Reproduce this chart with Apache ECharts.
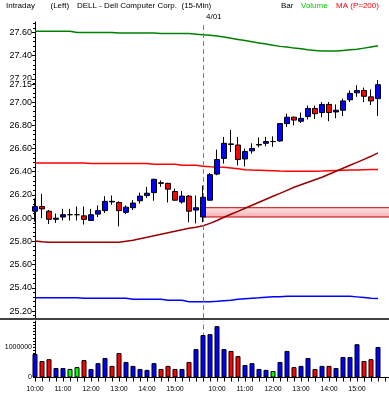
<!DOCTYPE html>
<html><head><meta charset="utf-8">
<script src="https://cdn.jsdelivr.net/npm/echarts@6/dist/echarts.min.js"></script>
<style>html,body{margin:0;padding:0;background:#fff}#c{width:389px;height:398px}</style>
</head><body><div id="c"></div>
<script>
// ---- data ----
const times = ['10:00','10:15','10:30','10:45','11:00','11:15','11:30','11:45','12:00','12:15','12:30','12:45',
  '13:00','13:15','13:30','13:45','14:00','14:15','14:30','14:45','15:00','15:15','15:30','15:45',
  '9:30','9:45','10:00','10:15','10:30','10:45','11:00','11:15','11:30','11:45','12:00','12:15','12:30','12:45',
  '13:00','13:15','13:30','13:45','14:00','14:15','14:30','14:45','15:00','15:15','15:30','15:45'];
const opens = [26.06,26.10,26.06,25.99,26.01,26.03,26.03,26.02,25.98,26.035,
  26.065,26.145,26.135,26.05,26.09,26.15,26.195,26.22,26.305,26.30,
  26.23,26.14,26.19,26.07,26.01,26.155,26.38,26.515,26.64,26.63,
  26.51,26.58,26.63,26.645,26.66,26.665,26.815,26.87,26.835,26.875,
  26.945,26.91,26.98,26.915,26.93,27.02,27.08,27.10,27.045,27.03];
const closes = [26.10,26.08,25.99,26.00,26.03,26.03,26.03,25.99,26.03,26.065,
  26.145,26.14,26.065,26.095,26.13,26.19,26.215,26.335,26.30,26.25,
  26.155,26.19,26.06,26.09,26.18,26.375,26.505,26.645,26.635,26.505,
  26.575,26.60,26.635,26.66,26.66,26.815,26.87,26.845,26.86,26.945,
  26.90,26.98,26.91,26.93,27.01,27.075,27.10,27.05,27.01,27.15];
const lows = [25.97,26.00,25.95,25.96,25.98,25.98,25.98,25.945,25.975,26.01,
  26.045,26.115,25.93,26.035,26.07,26.125,26.175,26.15,26.27,26.135,
  26.15,26.125,25.965,25.955,25.965,26.15,26.37,26.47,26.57,26.455,
  26.445,26.555,26.61,26.62,26.615,26.66,26.785,26.80,26.82,26.85,
  26.855,26.87,26.835,26.86,26.88,27.00,27.045,27.00,26.975,26.88];
const highs = [26.17,26.21,26.07,26.04,26.08,26.08,26.10,26.10,26.08,26.11,
  26.19,26.195,26.145,26.11,26.155,26.22,26.27,26.34,26.325,26.305,
  26.255,26.235,26.20,26.195,26.28,26.39,26.59,26.70,26.76,26.70,
  26.60,26.645,26.695,26.70,26.705,26.82,26.90,26.875,26.91,26.97,
  26.97,27.00,27.00,26.98,27.03,27.10,27.145,27.125,27.11,27.19];
const volumes = [770000,540000,600000,310000,310000,280000,340000,570000,280000,470000,
  640000,380000,800000,510000,380000,280000,250000,470000,280000,380000,
  280000,280000,510000,930000,1390000,1420000,1680000,930000,870000,700000,
  410000,470000,280000,250000,210000,510000,870000,340000,380000,640000,
  280000,380000,380000,310000,670000,670000,1090000,540000,600000,1000000];
const upperBand = [27.61,27.61,27.61,27.61,27.61,27.61,27.60,27.60,27.60,27.60,27.60,27.60,
  27.595,27.595,27.595,27.595,27.595,27.595,27.59,27.59,27.59,27.59,27.59,
  27.585,27.58,27.575,27.57,27.56,27.55,27.54,27.53,27.52,27.51,27.50,27.49,27.48,27.475,
  27.465,27.46,27.45,27.445,27.44,27.44,27.44,27.445,27.45,27.455,27.465,27.475,27.485];
const maLine = [26.476,26.476,26.476,26.476,26.476,26.476,26.476,26.476,
  26.47,26.47,26.47,26.47,26.47,26.47,26.47,26.47,26.47,
  26.465,26.465,26.465,26.465,26.455,26.455,26.455,
  26.448,26.443,26.44,26.438,26.432,26.425,26.418,26.414,26.412,
  26.41,26.408,26.406,26.405,26.404,26.404,26.404,26.405,26.406,26.408,
  26.41,26.412,26.414,26.416,26.418,26.419,26.42];
const slowLine = [25.804,25.797,25.792,25.792,25.792,25.792,25.792,25.792,25.792,25.792,25.792,25.792,25.792,
  25.801,25.810,25.823,25.835,25.848,25.861,25.874,25.887,25.900,25.913,25.922,25.935,25.955,25.980,
  26.008,26.034,26.059,26.085,26.111,26.137,26.163,26.189,26.214,26.240,26.266,26.288,26.309,
  26.331,26.352,26.378,26.404,26.430,26.456,26.481,26.507,26.533,26.563];
const lowerBand = [25.314,25.314,25.314,25.314,25.314,25.314,25.314,
  25.31,25.31,25.31,25.31,25.31,25.31,25.31,
  25.301,25.301,25.301,25.301,25.301,25.293,25.293,25.293,
  25.28,25.28,25.28,25.28,25.284,25.289,25.293,25.301,25.306,25.31,25.314,25.319,25.323,25.323,25.327,
  25.327,25.327,25.327,25.327,25.327,25.327,25.327,25.327,25.327,25.322,25.316,25.31,25.307];
const priceTicks = [25.2,25.4,25.6,25.8,26.0,26.2,26.4,26.6,26.8,27.0,27.2,27.4,27.6];
const lastPrice = 27.15;
const volumeTicks = [0,1000000];
const zone = [26.01, 26.09];
const dayStartIndex = 24;
const dayLabel = '4/01';

// ---- chart ----
const FONT = '"Liberation Sans", Arial, sans-serif';
const axisCats = times.concat(['', '']);
const candleData = opens.map((o, i) => [o, closes[i], lows[i], highs[i]]);
const volColor = i => closes[i] > opens[i] ? '#0000ff' : (closes[i] < opens[i] ? '#ff0000' : '#00ff00');
const minorPrice = []; for (let v = 25.16; v < 27.69; v += 0.04) minorPrice.push(+v.toFixed(2));
const minorVol = []; for (let v = 0; v <= 1800000; v += 100000) minorVol.push(v);

function ttl(text, left, color) {
  return {text, left, top: 2, padding: 0,
    textStyle: {fontSize: 8, fontWeight: 'normal', fontFamily: FONT, color: color || '#000'}};
}

const chart = echarts.init(document.getElementById('c'), null, {renderer: 'canvas'});
chart.setOption({
  animation: false,
  backgroundColor: '#fff',
  textStyle: {fontFamily: FONT},
  title: [
    ttl('Intraday', 6), ttl('(Left)', 50.5), ttl('DELL - Dell Computer Corp.', 77), ttl('(15-Min)', 181.5),
    ttl('Bar', 281), ttl('Volume', 301, '#00cc00'), ttl('MA (P=200)', 336, '#ff0000')
  ],
  graphic: [{type: 'line', shape: {x1: 0, y1: 319, x2: 389, y2: 319}, style: {stroke: '#000', lineWidth: 1.5}, z: 100}],
  grid: [
    {left: 35, top: 22, width: 357, height: 296, outerBoundsMode: 'none', containLabel: false},
    {left: 35, top: 321, width: 357, height: 56.5, outerBoundsMode: 'none', containLabel: false}
  ],
  xAxis: [
    {gridIndex: 0, type: 'category', data: axisCats, boundaryGap: false, position: 'bottom',
      axisLine: {show: false}, axisTick: {show: false}, axisLabel: {show: false}, splitLine: {show: false}},
    {gridIndex: 1, type: 'category', data: axisCats, boundaryGap: false, position: 'bottom',
      axisLine: {show: true, lineStyle: {color: '#000', width: 1}},
      axisTick: {show: true, interval: 0, length: 4, lineStyle: {color: '#000'}},
      axisLabel: {interval: 0, margin: 8.5, fontSize: 7, color: '#000', fontFamily: FONT,
        formatter: v => (typeof v === 'string' && v.endsWith(':00')) ? v : ''},
      splitLine: {show: false}},
    {gridIndex: 0, type: 'category', data: axisCats, boundaryGap: false, position: 'top',
      axisLine: {show: false}, axisTick: {show: false}, splitLine: {show: false},
      axisLabel: {interval: 0, margin: 1.5, fontSize: 8, color: '#000', align: 'left', padding: [0, 0, 0, 3], fontFamily: FONT,
        formatter: (v, i) => i === dayStartIndex ? dayLabel : ''}}
  ],
  yAxis: [
    {gridIndex: 0, type: 'value', min: 25.14, max: 27.69, position: 'left',
      axisLine: {show: true, lineStyle: {color: '#000'}}, splitLine: {show: false},
      axisTick: {show: true, length: 2, customValues: minorPrice, lineStyle: {color: '#000'}},
      axisLabel: {customValues: priceTicks.concat([lastPrice]), formatter: v => v.toFixed(2), fontSize: 9, margin: 3,
        color: '#000', backgroundColor: '#fff', fontFamily: FONT}},
    {gridIndex: 0, type: 'value', min: 25.14, max: 27.69, position: 'left',
      axisLine: {show: false}, splitLine: {show: false}, axisLabel: {show: false},
      axisTick: {show: true, length: 4, customValues: priceTicks.concat([lastPrice]), lineStyle: {color: '#000'}}},
    {gridIndex: 1, type: 'value', min: 0, max: 1850000, position: 'left',
      axisLine: {show: true, lineStyle: {color: '#000'}}, splitLine: {show: false},
      axisTick: {show: true, length: 2, customValues: minorVol, lineStyle: {color: '#000'}},
      axisLabel: {customValues: volumeTicks, formatter: v => String(v), fontSize: 7, margin: 3, color: '#000', fontFamily: FONT}}
  ],
  series: [
    {name: 'upper', type: 'line', xAxisIndex: 0, yAxisIndex: 0, data: upperBand, showSymbol: false, silent: true,
      lineStyle: {color: '#008000', width: 1.5}},
    {name: 'ma', type: 'line', xAxisIndex: 0, yAxisIndex: 0, data: maLine, showSymbol: false, silent: true,
      lineStyle: {color: '#ff0000', width: 1.5}},
    {name: 'slow', type: 'line', xAxisIndex: 0, yAxisIndex: 0, data: slowLine, showSymbol: false, silent: true,
      lineStyle: {color: '#990000', width: 1.5}},
    {name: 'lower', type: 'line', xAxisIndex: 0, yAxisIndex: 0, data: lowerBand, showSymbol: false, silent: true,
      lineStyle: {color: '#0000ff', width: 1.5}},
    {name: 'price', type: 'candlestick', xAxisIndex: 0, yAxisIndex: 0, data: candleData, barWidth: 5, clip: false, z: 5,
      itemStyle: {color: '#0000ff', color0: '#ff0000', borderColor: '#000', borderColor0: '#000', borderColorDoji: '#000', borderWidth: 1},
      markLine: {silent: true, symbol: ['none', 'none'], label: {show: false}, animation: false,
        lineStyle: {color: '#808080', type: [5, 3], width: 1}, data: [{xAxis: dayStartIndex}]},
      markArea: {silent: true, label: {show: false},
        itemStyle: {color: {type: 'linear', x: 0, y: 0, x2: 0, y2: 1, colorStops: [
          {offset: 0, color: 'rgba(255,215,215,0.55)'}, {offset: 1, color: 'rgba(235,110,120,0.6)'}]},
          borderColor: '#c00000', borderWidth: 1},
        data: [[{xAxis: dayStartIndex, yAxis: zone[1]}, {xAxis: axisCats.length - 1, yAxis: zone[0]}]]}},
    {name: 'volume', type: 'bar', xAxisIndex: 1, yAxisIndex: 2, barWidth: 5, clip: false,
      data: volumes.map((v, i) => ({value: v, itemStyle: {color: volColor(i)}})),
      itemStyle: {borderColor: '#000', borderWidth: 1},
      markLine: {silent: true, symbol: ['none', 'none'], label: {show: false}, z: 1,
        lineStyle: {color: '#808080', type: [5, 3], width: 1}, data: [{xAxis: dayStartIndex}]}}
  ]
});
</script></body></html>
